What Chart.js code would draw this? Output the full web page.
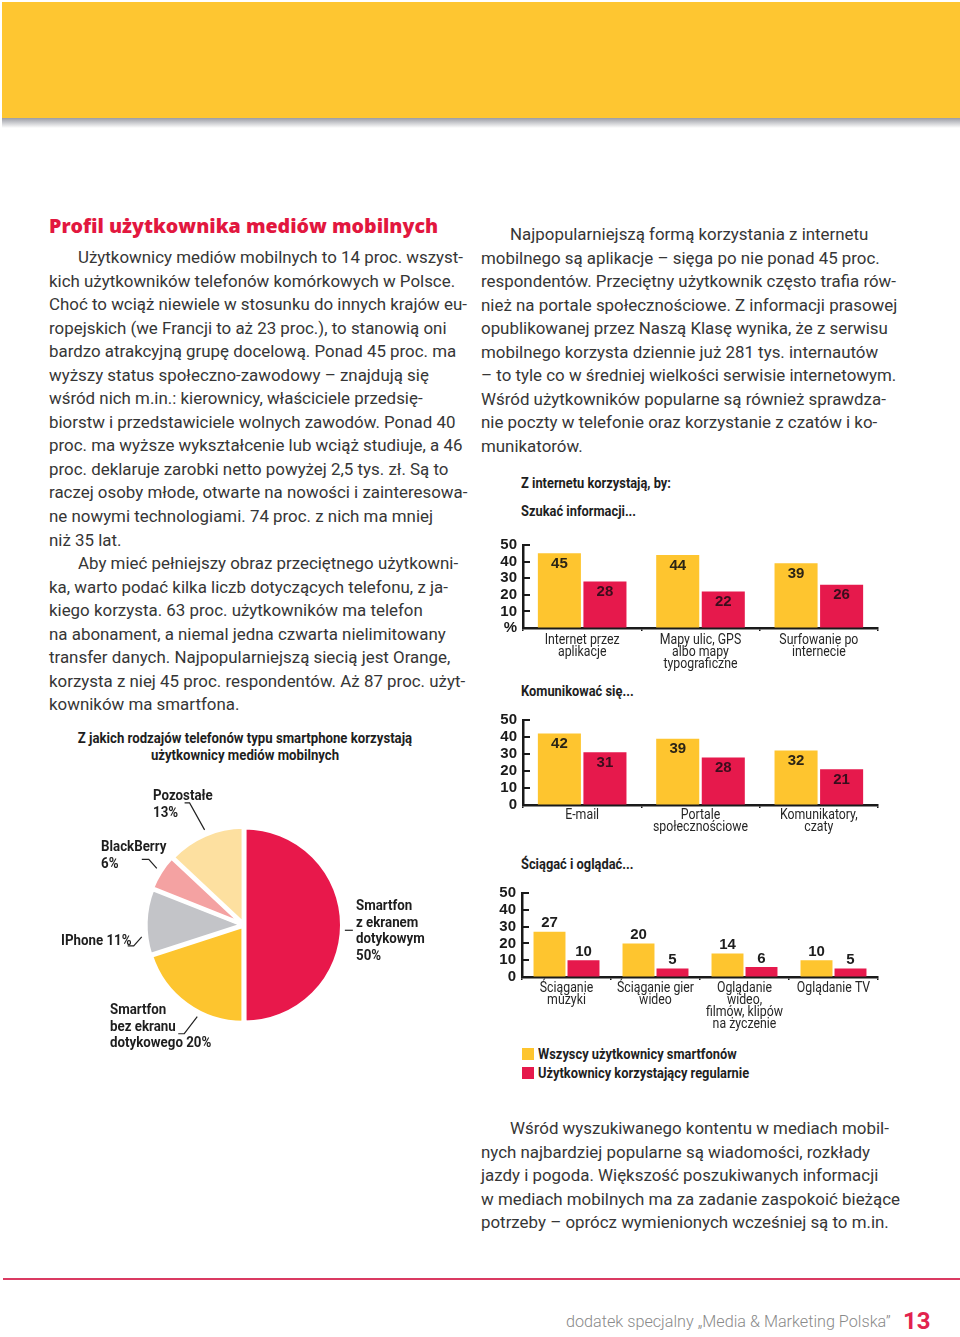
<!DOCTYPE html>
<html lang="pl"><head><meta charset="utf-8">
<script src="https://cdn.jsdelivr.net/npm/chart.js@4.4.0/dist/chart.umd.min.js"></script>
<style>
html,body{margin:0;padding:0;background:#fff;width:960px;height:1337px;overflow:hidden;}
body{position:relative;font-family:Roboto,"Open Sans",sans-serif;color:#3a3a3a;}
.hdr{position:absolute;left:2px;top:2px;width:958px;height:116px;background:#FEC631;}
.shadow{position:absolute;left:2px;top:118px;width:958px;height:10px;background:linear-gradient(#9a9ca4,rgba(255,255,255,0));}
.txt{position:absolute;font-size:16.9px;line-height:23.55px;white-space:nowrap;color:#363636;}
.txt .ind{padding-left:29px;}
.title{position:absolute;left:49px;top:213px;font-family:"Open Sans",Roboto,sans-serif;font-weight:800;font-size:19.6px;line-height:26px;color:#E2173F;white-space:nowrap;}
.cd{position:absolute;font-family:Roboto,sans-serif;font-weight:700;font-size:15.3px;white-space:nowrap;color:#1e1e1e;transform:scaleX(0.84);transform-origin:0 0;}
.ch{line-height:18px;}
.pl{line-height:16.7px;transform:scaleX(0.87);}
canvas{position:absolute;}
.rule{position:absolute;left:3px;top:1278px;width:957px;height:2px;background:#DA3A62;}
.foot{position:absolute;left:566px;top:1311px;font-size:16.2px;line-height:22px;color:#8a8a8a;font-weight:300;white-space:nowrap;}
.pg{position:absolute;left:903px;top:1306px;font-size:24px;line-height:30px;color:#E2234E;font-weight:bold;font-family:Roboto,sans-serif;}
.lg{position:absolute;left:522px;width:12px;height:12px;}
</style></head>
<body>
<div class="hdr"></div><div class="shadow"></div>

<div class="title">Profil użytkownika mediów mobilnych</div>
<div class="txt" style="left:49px;top:246px;">
<div class="ind">Użytkownicy mediów mobilnych to 14 proc. wszyst-</div>
<div>kich użytkowników telefonów komórkowych w Polsce.</div>
<div>Choć to wciąż niewiele w stosunku do innych krajów eu-</div>
<div>ropejskich (we Francji to aż 23 proc.), to stanowią oni</div>
<div>bardzo atrakcyjną grupę docelową. Ponad 45 proc. ma</div>
<div>wyższy status społeczno-zawodowy – znajdują się</div>
<div>wśród nich m.in.: kierownicy, właściciele przedsię-</div>
<div>biorstw i przedstawiciele wolnych zawodów. Ponad 40</div>
<div>proc. ma wyższe wykształcenie lub wciąż studiuje, a 46</div>
<div>proc. deklaruje zarobki netto powyżej 2,5 tys. zł. Są to</div>
<div>raczej osoby młode, otwarte na nowości i zainteresowa-</div>
<div>ne nowymi technologiami. 74 proc. z nich ma mniej</div>
<div>niż 35 lat.</div>
<div class="ind">Aby mieć pełniejszy obraz przeciętnego użytkowni-</div>
<div>ka, warto podać kilka liczb dotyczących telefonu, z ja-</div>
<div>kiego korzysta. 63 proc. użytkowników ma telefon</div>
<div>na abonament, a niemal jedna czwarta nielimitowany</div>
<div>transfer danych. Najpopularniejszą siecią jest Orange,</div>
<div>korzysta z niej 45 proc. respondentów. Aż 87 proc. użyt-</div>
<div>kowników ma smartfona.</div>
</div>

<div class="txt" style="left:481px;top:223px;">
<div class="ind">Najpopularniejszą formą korzystania z internetu</div>
<div>mobilnego są aplikacje – sięga po nie ponad 45 proc.</div>
<div>respondentów. Przeciętny użytkownik często trafia rów-</div>
<div>nież na portale społecznościowe. Z informacji prasowej</div>
<div>opublikowanej przez Naszą Klasę wynika, że z serwisu</div>
<div>mobilnego korzysta dziennie już 281 tys. internautów</div>
<div>– to tyle co w średniej wielkości serwisie internetowym.</div>
<div>Wśród użytkowników popularne są również sprawdza-</div>
<div>nie poczty w telefonie oraz korzystanie z czatów i ko-</div>
<div>munikatorów.</div>
</div>

<div class="txt" style="left:481px;top:1117px;">
<div class="ind">Wśród wyszukiwanego kontentu w mediach mobil-</div>
<div>nych najbardziej popularne są wiadomości, rozkłady</div>
<div>jazdy i pogoda. Większość poszukiwanych informacji</div>
<div>w mediach mobilnych ma za zadanie zaspokoić bieżące</div>
<div>potrzeby – oprócz wymienionych wcześniej są to m.in.</div>
</div>

<!-- pie -->
<div class="cd" style="left:45px;width:400px;top:730px;text-align:center;font-size:15.5px;line-height:17px;transform:scaleX(0.85);transform-origin:50% 0;">Z jakich rodzajów telefonów typu smartphone korzystają<br>użytkownicy mediów mobilnych</div>
<canvas id="pie" width="300" height="300" style="left:94px;top:775px;"></canvas>
<div class="cd pl" style="left:153px;top:787px;">Pozostałe<br>13%</div>
<div class="cd pl" style="left:101px;top:838px;">BlackBerry<br>6%</div>
<div class="cd pl" style="left:61px;top:932px;">IPhone 11%</div>
<div class="cd pl" style="left:110px;top:1001px;">Smartfon<br>bez ekranu<br>dotykowego 20%</div>
<div class="cd pl" style="left:356px;top:897px;">Smartfon<br>z ekranem<br>dotykowym<br>50%</div>

<!-- bars -->
<div class="cd ch" style="left:521px;top:474px;">Z internetu korzystają, by:</div>
<div class="cd ch" style="left:521px;top:502px;">Szukać informacji...</div>
<canvas id="b1" width="400" height="150" style="left:490px;top:530px;"></canvas>
<div class="cd ch" style="left:521px;top:682px;">Komunikować się...</div>
<canvas id="b2" width="400" height="140" style="left:490px;top:705px;"></canvas>
<div class="cd ch" style="left:521px;top:855px;">Ściągać i oglądać...</div>
<canvas id="b3" width="401" height="160" style="left:489px;top:878px;"></canvas>
<div id="legend"></div>

<div class="rule"></div>
<div class="foot">dodatek specjalny „Media &amp; Marketing Polska”</div>
<div class="pg">13</div>

<script>
// ---- data ----
const pieLabels = ['Smartfon z ekranem dotykowym','Smartfon bez ekranu dotykowego','IPhone','BlackBerry','Pozostałe'];
const pieValues = [50, 20, 11, 6, 13];

const seriesNames = ['Wszyscy użytkownicy smartfonów','Użytkownicy korzystający regularnie'];

const infoCategories = [['Internet przez','aplikacje'],['Mapy ulic, GPS','albo mapy','typograficzne'],['Surfowanie po','internecie']];
const infoAll = [45, 44, 39];
const infoRegular = [28, 22, 26];

const commCategories = [['E-mail'],['Portale','społecznościowe'],['Komunikatory,','czaty']];
const commAll = [42, 39, 32];
const commRegular = [31, 28, 21];

const dlCategories = [['Ściąganie','muzyki'],['Ściąganie gier','wideo'],['Oglądanie','wideo,','filmów, klipów','na życzenie'],['Oglądanie TV']];
const dlAll = [27, 20, 14, 10];
const dlRegular = [10, 5, 6, 5];

const yTicksPercent = ['%','10','20','30','40','50'];
const yTicksZero = ['0','10','20','30','40','50'];

// ---- styles ----
const BOLD = '"Liberation Sans",Arial,sans-serif';
const YELLOW = '#FEC52F', RED = '#E6194C';
const pieColors = ['#E8184B','#FDC52F','#C3C4C8','#F4A2A2','#FDE0A0'];
const pieOffsets = [2,4,4,5,4];
const leader = {frac:[0.517,0.37,0.28,0.53,0.52], dx:[8,-13,-8,-8,-15], dy:[0,17,9,-9,-27], hx:[0,-6,-6,-7,-5]};

const leaderPlugin = {
  id:'leaders',
  afterDatasetsDraw(chart){
    const ctx = chart.ctx, meta = chart.getDatasetMeta(0);
    ctx.save(); ctx.strokeStyle = '#222'; ctx.lineWidth = 1.2;
    meta.data.forEach((arc,i)=>{
      const p = arc.getProps(['x','y','startAngle','endAngle','outerRadius'], true);
      const off = arc.options.offset || 0;
      const mid = (p.startAngle + p.endAngle)/2;
      const ox = p.x + Math.cos(mid)*off, oy = p.y + Math.sin(mid)*off;
      const a = p.startAngle + (p.endAngle - p.startAngle)*leader.frac[i];
      const sx = ox + Math.cos(a)*(p.outerRadius+2), sy = oy + Math.sin(a)*(p.outerRadius+2);
      const ex = sx + leader.dx[i], ey = sy + leader.dy[i];
      ctx.beginPath(); ctx.moveTo(sx,sy); ctx.lineTo(ex,ey); ctx.lineTo(ex+leader.hx[i],ey); ctx.stroke();
    });
    ctx.restore();
  }
};

new Chart(document.getElementById('pie'), {
  type:'pie',
  data:{labels:pieLabels, datasets:[{data:pieValues, backgroundColor:pieColors, borderColor:'#fff', borderWidth:4, offset:pieOffsets}]},
  options:{responsive:false, animation:false, radius:97,
    plugins:{legend:{display:false}, tooltip:{enabled:false}}},
  plugins:[leaderPlugin]
});

const yTickMarks = {
  id:'ytm',
  afterDraw(chart){
    const y = chart.scales.y, ctx = chart.ctx;
    ctx.save(); ctx.strokeStyle = '#1a1a1a'; ctx.lineWidth = 2;
    y.ticks.forEach(t=>{ if (t.value===0) return;
      const py = Math.round(y.getPixelForValue(t.value));
      ctx.beginPath(); ctx.moveTo(y.right, py); ctx.lineTo(y.right+7, py); ctx.stroke(); });
    ctx.restore();
  }
};
const valueLabels = {
  id:'vals',
  afterDatasetsDraw(chart, args, opts){
    const ctx = chart.ctx;
    ctx.save(); ctx.font = 'bold 15px ' + BOLD; ctx.textAlign = 'center'; ctx.textBaseline = 'middle';
    chart.data.datasets.forEach((ds,di)=>{
      chart.getDatasetMeta(di).data.forEach((bar,i)=>{
        const v = ds.data[i];
        if (opts.inside){ ctx.fillStyle = di===0 ? '#2b2416' : '#3a0d1c'; ctx.fillText(String(v), bar.x, bar.y + 10.5); }
        else { ctx.fillStyle = '#1e1e1e'; ctx.fillText(String(v), bar.x, bar.y - 8.5); }
      });
    });
    ctx.restore();
  }
};
// category labels, condensed, drawn at the x scale's tick positions
const xLabels = {
  id:'xlab',
  afterDraw(chart, args, opts){
    const xs = chart.scales.x, ctx = chart.ctx, area = chart.chartArea;
    ctx.save(); ctx.fillStyle = '#262626'; ctx.font = '14px Roboto'; ctx.textAlign = 'center'; ctx.textBaseline = 'middle';
    chart.data.labels.forEach((lab,i)=>{
      const x = xs.getPixelForTick(i);
      [].concat(lab).forEach((line,k)=>{
        ctx.save(); ctx.translate(x, area.bottom + opts.gap + k*12.3); ctx.scale(0.88,1); ctx.fillText(line,0,0); ctx.restore();
      });
    });
    ctx.restore();
  }
};

function barChart(id, cats, all, reg, yLabels, inside, xH, cp, bp, gap){
  return new Chart(document.getElementById(id), {
    type:'bar',
    data:{labels:cats, datasets:[
      {label:seriesNames[0], data:all, backgroundColor:YELLOW, categoryPercentage:cp, barPercentage:bp},
      {label:seriesNames[1], data:reg, backgroundColor:RED, categoryPercentage:cp, barPercentage:bp}]},
    options:{responsive:false, animation:false,
      layout:{padding:{top:13, right:12, left:0, bottom:0}},
      plugins:{legend:{display:false}, tooltip:{enabled:false}, vals:{inside:inside}, xlab:{gap:gap}},
      scales:{
        x:{grid:{display:true, drawOnChartArea:false, offset:true, tickLength:3, color:'#1a1a1a', lineWidth:1.5},
           border:{display:true, color:'#1a1a1a', width:2.5},
           ticks:{display:false},
           afterFit(s){ s.height = xH; }},
        y:{min:0, max:50,
           ticks:{stepSize:10, autoSkip:false, callback:(v,i)=>yLabels[i], color:'#1a1a1a', font:{family:BOLD, size:15, weight:'bold'}, padding:6},
           grid:{display:true, drawOnChartArea:false, drawTicks:false},
           border:{display:true, color:'#1a1a1a', width:2.5},
           afterFit(s){ s.width = 33; }}
      }},
    plugins:[yTickMarks, valueLabels, xLabels]
  });
}
barChart('b1', infoCategories, infoAll, infoRegular, yTicksPercent, true, 52, 0.77, 0.945, 12);
barChart('b2', commCategories, commAll, commRegular, yTicksZero, true, 40, 0.77, 0.945, 10.5);
barChart('b3', dlCategories, dlAll, dlRegular, yTicksZero, false, 61, 0.764, 0.94, 11);

// legend
const lg = document.getElementById('legend');
[YELLOW, RED].forEach((c,i)=>{
  const sq = document.createElement('div'); sq.className='lg'; sq.style.top=(1048+i*19)+'px'; sq.style.background=c; lg.appendChild(sq);
  const t = document.createElement('div'); t.className='cd ch'; t.style.left='538px'; t.style.top=(1045+i*19)+'px'; t.textContent=seriesNames[i]; lg.appendChild(t);
});
</script>
</body></html>
